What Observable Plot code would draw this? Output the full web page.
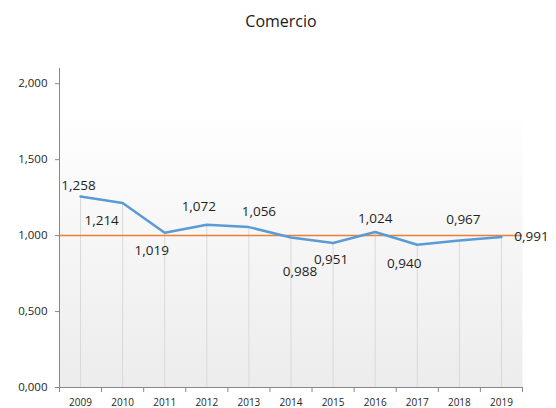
<!DOCTYPE html>
<html>
<head>
<meta charset="utf-8">
<script src="https://cdn.jsdelivr.net/npm/d3@7"></script>
<script src="https://cdn.jsdelivr.net/npm/@observablehq/plot@0.6"></script>
<style>
  html, body { margin: 0; padding: 0; background: #fff; }
  #title { width: 556px; height: 42px; line-height: 42px; text-align: center; font-family: "Open Sans", sans-serif; font-size: 16px; color: #1a1a1a; padding-left: 6px; box-sizing: border-box; }
  #chart svg { display: block; }
</style>
</head>
<body>
<div id="title">Comercio</div>
<div id="chart"></div>
<script>
const years = [2009, 2010, 2011, 2012, 2013, 2014, 2015, 2016, 2017, 2018, 2019];
const values = [1.258, 1.214, 1.019, 1.072, 1.056, 0.988, 0.951, 1.024, 0.940, 0.967, 0.991];
const reference = [1.0];
const yTicks = [0, 0.5, 1.0, 1.5, 2.0];
// label placement offsets (pixels) for each data label
const labelDx = [-2, -21, -13, -8, 10, 9, -2, 0, -13, 4, 30];
const labelDy = [-11, 18, 18, -18, -15, 34, 17, -13, 19, -21, 0];

const data = years.map((y, i) => ({year: y, value: values[i], dx: labelDx[i], dy: labelDy[i]}));
const fmt = v => d3.format(".3f")(v).replace(".", ",");
const boundaries = years.map(y => y - 0.5).concat([years[years.length - 1] + 0.5]);

const font = '"Open Sans", sans-serif';

const chart = Plot.plot({
  width: 556,
  height: 366,
  marginLeft: 59,
  marginRight: 34,
  marginTop: 26,
  marginBottom: 21,
  style: {fontFamily: font, background: "transparent", overflow: "visible"},
  x: {type: "linear", domain: [2008.5, 2019.5]},
  y: {domain: [0, 2.1]},
  marks: [
    Plot.frame({fill: "url(#bggrad)", stroke: "none"}),
    Plot.ruleX(data, {x: "year", y1: 0, y2: "value", stroke: "#d9d9d9", strokeWidth: 1}),
    Plot.ruleY(reference, {stroke: "#ED7D31", strokeWidth: 1.5}),
    Plot.lineY(data, {x: "year", y: "value", stroke: "#5B9BD5", strokeWidth: 2.5, curve: "linear"}),
    Plot.axisY({ticks: yTicks, tickFormat: fmt, tickSize: 4, tickPadding: 8, stroke: "#888", fill: "#262626", fontSize: 11.5, label: null}),
    Plot.ruleX([2008.5], {stroke: "#888", strokeWidth: 1}),
    Plot.ruleY([0], {stroke: "#888", strokeWidth: 1}),
    Plot.axisX({ticks: boundaries, tickFormat: () => "", tickSize: 5, stroke: "#888", label: null}),
    Plot.axisX({ticks: years, tickFormat: d => String(d), tickSize: 0, tickPadding: 11, fill: "#262626", fontSize: 10, label: null}),
    ...data.map(d => Plot.text([d], {x: "year", y: "value", text: v => fmt(v.value), dx: d.dx, dy: d.dy, fontSize: 13.5, fill: "#1f1f1f", fontFamily: font}))
  ]
});

const svg = d3.select(chart);
const defs = svg.insert("defs", ":first-child");
const g = defs.append("linearGradient").attr("id", "bggrad").attr("x1", 0).attr("y1", 0).attr("x2", 0).attr("y2", 1);
g.append("stop").attr("offset", "0%").attr("stop-color", "#ffffff");
g.append("stop").attr("offset", "12%").attr("stop-color", "#ffffff");
g.append("stop").attr("offset", "100%").attr("stop-color", "#ececec");

document.getElementById("chart").appendChild(chart);
</script>
</body>
</html>
